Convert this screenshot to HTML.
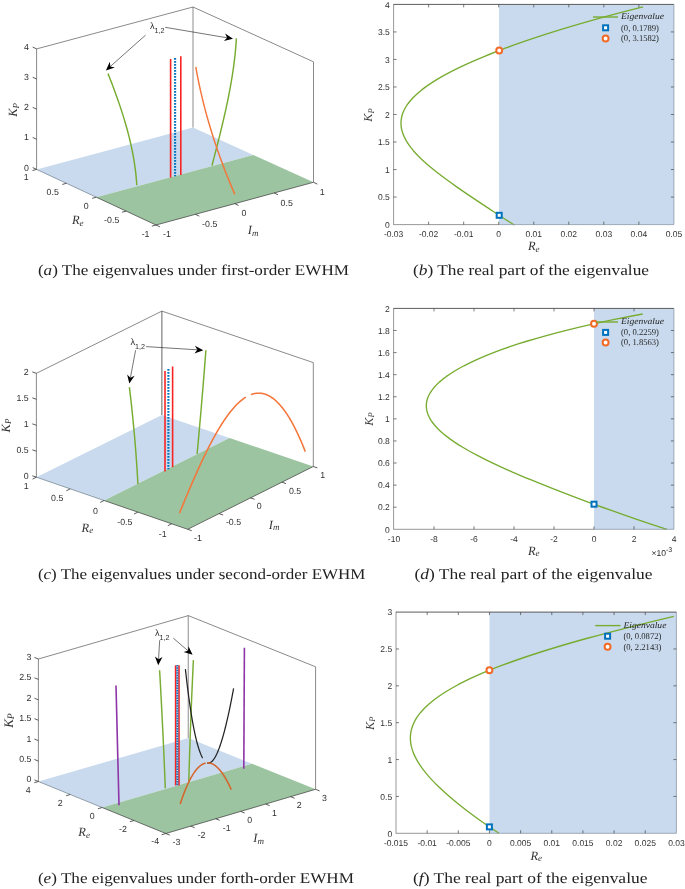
<!DOCTYPE html><html><head><meta charset="utf-8"><title>Figure</title><style>html,body{margin:0;padding:0;background:#fff}svg{display:block}</style></head><body>
<svg width="685" height="889" viewBox="0 0 685 889" style="will-change:transform" text-rendering="geometricPrecision">
<rect width="685" height="889" fill="#fff"/>
<rect x="499.00" y="4.40" width="174.90" height="220.20" fill="#C9DAEE"/>
<path d="M643.10 6.80 L632.13 9.56 L621.46 12.32 L611.07 15.09 L600.95 17.85 L591.08 20.61 L581.46 23.37 L572.08 26.13 L562.94 28.90 L554.02 31.66 L545.34 34.42 L536.88 37.18 L528.64 39.94 L520.63 42.71 L512.85 45.47 L505.30 48.23 L497.97 50.99 L490.89 53.75 L484.04 56.52 L477.43 59.28 L471.07 62.04 L464.96 64.80 L459.11 67.56 L453.52 70.33 L448.19 73.09 L443.14 75.85 L438.35 78.61 L433.85 81.37 L429.63 84.14 L425.69 86.90 L422.03 89.66 L418.67 92.42 L415.60 95.18 L412.83 97.95 L410.34 100.71 L408.16 103.47 L406.26 106.23 L404.66 108.99 L403.35 111.76 L402.33 114.52 L401.60 117.28 L401.15 120.04 L400.98 122.81 L401.08 125.57 L401.45 128.33 L402.09 131.09 L402.97 133.85 L404.11 136.62 L405.49 139.38 L407.09 142.14 L408.92 144.90 L410.96 147.66 L413.21 150.43 L415.65 153.19 L418.27 155.95 L421.06 158.71 L424.01 161.47 L427.11 164.24 L430.35 167.00 L433.72 169.76 L437.20 172.52 L440.79 175.28 L444.47 178.05 L448.24 180.81 L452.08 183.57 L455.98 186.33 L459.94 189.09 L463.95 191.86 L468.00 194.62 L472.08 197.38 L476.19 200.14 L480.32 202.90 L484.48 205.67 L488.66 208.43 L492.87 211.19 L497.09 213.95 L501.35 216.71 L505.63 219.48 L509.96 222.24 L514.35 225.00" fill="none" stroke="#77AC30" stroke-width="1.35" stroke-linejoin="round" />
<line x1="393.60" y1="4.10" x2="393.60" y2="224.90" stroke="#8c8c8c" stroke-width="0.9" />
<line x1="393.60" y1="224.60" x2="499.00" y2="224.60" stroke="#8c8c8c" stroke-width="0.9" />
<line x1="499.00" y1="224.60" x2="673.90" y2="224.60" stroke="#8d99a8" stroke-width="0.8" />
<line x1="673.90" y1="4.40" x2="673.90" y2="224.60" stroke="#8d99a8" stroke-width="0.8" />
<line x1="393.60" y1="4.40" x2="673.90" y2="4.40" stroke="#4a4a4a" stroke-width="0.9" />
<text transform="translate(393.60 237.24) scale(1.000 1)" font-size="8.5" text-anchor="middle" font-family='"Liberation Sans", sans-serif' fill="#303030">-0.03</text>
<line x1="428.64" y1="224.60" x2="428.64" y2="221.60" stroke="#444" stroke-width="0.7" />
<line x1="428.64" y1="4.40" x2="428.64" y2="7.40" stroke="#444" stroke-width="0.7" />
<text transform="translate(428.64 237.24) scale(1.000 1)" font-size="8.5" text-anchor="middle" font-family='"Liberation Sans", sans-serif' fill="#303030">-0.02</text>
<line x1="463.68" y1="224.60" x2="463.68" y2="221.60" stroke="#444" stroke-width="0.7" />
<line x1="463.68" y1="4.40" x2="463.68" y2="7.40" stroke="#444" stroke-width="0.7" />
<text transform="translate(463.68 237.24) scale(1.000 1)" font-size="8.5" text-anchor="middle" font-family='"Liberation Sans", sans-serif' fill="#303030">-0.01</text>
<line x1="498.71" y1="224.60" x2="498.71" y2="221.60" stroke="#444" stroke-width="0.7" />
<line x1="498.71" y1="4.40" x2="498.71" y2="7.40" stroke="#444" stroke-width="0.7" />
<text transform="translate(498.71 237.24) scale(1.000 1)" font-size="8.5" text-anchor="middle" font-family='"Liberation Sans", sans-serif' fill="#303030">0</text>
<line x1="533.75" y1="224.60" x2="533.75" y2="221.60" stroke="#444" stroke-width="0.7" />
<line x1="533.75" y1="4.40" x2="533.75" y2="7.40" stroke="#444" stroke-width="0.7" />
<text transform="translate(533.75 237.24) scale(1.000 1)" font-size="8.5" text-anchor="middle" font-family='"Liberation Sans", sans-serif' fill="#303030">0.01</text>
<line x1="568.79" y1="224.60" x2="568.79" y2="221.60" stroke="#444" stroke-width="0.7" />
<line x1="568.79" y1="4.40" x2="568.79" y2="7.40" stroke="#444" stroke-width="0.7" />
<text transform="translate(568.79 237.24) scale(1.000 1)" font-size="8.5" text-anchor="middle" font-family='"Liberation Sans", sans-serif' fill="#303030">0.02</text>
<line x1="603.83" y1="224.60" x2="603.83" y2="221.60" stroke="#444" stroke-width="0.7" />
<line x1="603.83" y1="4.40" x2="603.83" y2="7.40" stroke="#444" stroke-width="0.7" />
<text transform="translate(603.83 237.24) scale(1.000 1)" font-size="8.5" text-anchor="middle" font-family='"Liberation Sans", sans-serif' fill="#303030">0.03</text>
<line x1="638.86" y1="224.60" x2="638.86" y2="221.60" stroke="#444" stroke-width="0.7" />
<line x1="638.86" y1="4.40" x2="638.86" y2="7.40" stroke="#444" stroke-width="0.7" />
<text transform="translate(638.86 237.24) scale(1.000 1)" font-size="8.5" text-anchor="middle" font-family='"Liberation Sans", sans-serif' fill="#303030">0.04</text>
<text transform="translate(673.90 237.24) scale(1.000 1)" font-size="8.5" text-anchor="middle" font-family='"Liberation Sans", sans-serif' fill="#303030">0.05</text>
<text transform="translate(389.80 227.84) scale(1.000 1)" font-size="8.5" text-anchor="end" font-family='"Liberation Sans", sans-serif' fill="#303030">0</text>
<line x1="393.60" y1="197.07" x2="396.60" y2="197.07" stroke="#444" stroke-width="0.7" />
<line x1="673.90" y1="197.07" x2="670.90" y2="197.07" stroke="#444" stroke-width="0.7" />
<text transform="translate(389.80 200.32) scale(1.000 1)" font-size="8.5" text-anchor="end" font-family='"Liberation Sans", sans-serif' fill="#303030">0.5</text>
<line x1="393.60" y1="169.55" x2="396.60" y2="169.55" stroke="#444" stroke-width="0.7" />
<line x1="673.90" y1="169.55" x2="670.90" y2="169.55" stroke="#444" stroke-width="0.7" />
<text transform="translate(389.80 172.79) scale(1.000 1)" font-size="8.5" text-anchor="end" font-family='"Liberation Sans", sans-serif' fill="#303030">1</text>
<line x1="393.60" y1="142.03" x2="396.60" y2="142.03" stroke="#444" stroke-width="0.7" />
<line x1="673.90" y1="142.03" x2="670.90" y2="142.03" stroke="#444" stroke-width="0.7" />
<text transform="translate(389.80 145.27) scale(1.000 1)" font-size="8.5" text-anchor="end" font-family='"Liberation Sans", sans-serif' fill="#303030">1.5</text>
<line x1="393.60" y1="114.50" x2="396.60" y2="114.50" stroke="#444" stroke-width="0.7" />
<line x1="673.90" y1="114.50" x2="670.90" y2="114.50" stroke="#444" stroke-width="0.7" />
<text transform="translate(389.80 117.74) scale(1.000 1)" font-size="8.5" text-anchor="end" font-family='"Liberation Sans", sans-serif' fill="#303030">2</text>
<line x1="393.60" y1="86.97" x2="396.60" y2="86.97" stroke="#444" stroke-width="0.7" />
<line x1="673.90" y1="86.97" x2="670.90" y2="86.97" stroke="#444" stroke-width="0.7" />
<text transform="translate(389.80 90.22) scale(1.000 1)" font-size="8.5" text-anchor="end" font-family='"Liberation Sans", sans-serif' fill="#303030">2.5</text>
<line x1="393.60" y1="59.45" x2="396.60" y2="59.45" stroke="#444" stroke-width="0.7" />
<line x1="673.90" y1="59.45" x2="670.90" y2="59.45" stroke="#444" stroke-width="0.7" />
<text transform="translate(389.80 62.69) scale(1.000 1)" font-size="8.5" text-anchor="end" font-family='"Liberation Sans", sans-serif' fill="#303030">3</text>
<line x1="393.60" y1="31.93" x2="396.60" y2="31.93" stroke="#444" stroke-width="0.7" />
<line x1="673.90" y1="31.93" x2="670.90" y2="31.93" stroke="#444" stroke-width="0.7" />
<text transform="translate(389.80 35.17) scale(1.000 1)" font-size="8.5" text-anchor="end" font-family='"Liberation Sans", sans-serif' fill="#303030">3.5</text>
<text transform="translate(389.80 7.64) scale(1.000 1)" font-size="8.5" text-anchor="end" font-family='"Liberation Sans", sans-serif' fill="#303030">4</text>
<rect x="496.70" y="212.80" width="5.00" height="5.00" fill="#fff" stroke="#0072BD" stroke-width="2"/>
<circle cx="499.20" cy="50.50" r="2.95" fill="#fff" stroke="#F26A26" stroke-width="2"/>
<line x1="593.00" y1="17.00" x2="618.00" y2="17.00" stroke="#77AC30" stroke-width="1.4" />
<text x="621.00" y="19.30" font-size="8.8" text-anchor="start" font-family='"Liberation Serif", serif' fill="#262626" font-style="italic" textLength="43" lengthAdjust="spacingAndGlyphs">Eigenvalue</text>
<rect x="603.10" y="25.30" width="5.00" height="5.00" fill="#fff" stroke="#0072BD" stroke-width="2"/>
<circle cx="605.60" cy="38.50" r="2.95" fill="#fff" stroke="#F26A26" stroke-width="2"/>
<text x="621.00" y="30.60" font-size="8.9" text-anchor="start" font-family='"Liberation Serif", serif' fill="#262626"  textLength="38" lengthAdjust="spacingAndGlyphs">(0, 0.1789)</text>
<text x="621.00" y="41.30" font-size="8.9" text-anchor="start" font-family='"Liberation Serif", serif' fill="#262626"  textLength="38" lengthAdjust="spacingAndGlyphs">(0, 3.1582)</text>
<text x="533.70" y="250.25" font-size="12.5" text-anchor="middle" font-family='"Liberation Serif", serif' font-style="italic" fill="#333">R<tspan font-size="9.00" dy="1.6">e</tspan></text>
<text x="368.80" y="118.66" font-size="12.2" text-anchor="middle" font-family='"Liberation Serif", serif' font-style="italic" fill="#333" transform="rotate(-90 368.80 115.00)">K<tspan font-size="8.54" dy="1.6">P</tspan></text>
<rect x="594.00" y="308.40" width="79.90" height="220.90" fill="#C9DAEE"/>
<path d="M642.67 314.00 L628.23 316.73 L614.52 319.45 L601.50 322.18 L589.13 324.90 L577.37 327.63 L566.19 330.35 L555.56 333.08 L545.47 335.80 L535.87 338.53 L526.75 341.25 L518.10 343.98 L509.90 346.70 L502.13 349.43 L494.78 352.15 L487.83 354.88 L481.29 357.61 L475.14 360.33 L469.37 363.06 L463.98 365.78 L458.96 368.51 L454.31 371.23 L450.03 373.96 L446.10 376.68 L442.54 379.41 L439.34 382.13 L436.49 384.86 L434.00 387.58 L431.86 390.31 L430.07 393.03 L428.63 395.76 L427.53 398.48 L426.79 401.21 L426.38 403.94 L426.32 406.66 L426.59 409.39 L427.20 412.11 L428.14 414.84 L429.41 417.56 L430.99 420.29 L432.89 423.01 L435.11 425.74 L437.63 428.46 L440.44 431.19 L443.55 433.91 L446.94 436.64 L450.60 439.36 L454.53 442.09 L458.72 444.82 L463.15 447.54 L467.82 450.27 L472.72 452.99 L477.83 455.72 L483.16 458.44 L488.67 461.17 L494.37 463.89 L500.25 466.62 L506.29 469.34 L512.48 472.07 L518.81 474.79 L525.28 477.52 L531.87 480.24 L538.57 482.97 L545.38 485.69 L552.29 488.42 L559.29 491.15 L566.38 493.87 L573.55 496.60 L580.80 499.32 L588.14 502.05 L595.55 504.77 L603.04 507.50 L610.62 510.22 L618.30 512.95 L626.07 515.67 L633.96 518.40 L641.97 521.12 L650.13 523.85 L658.46 526.57 L666.97 529.30" fill="none" stroke="#77AC30" stroke-width="1.35" stroke-linejoin="round" />
<line x1="393.60" y1="308.10" x2="393.60" y2="529.60" stroke="#8c8c8c" stroke-width="0.9" />
<line x1="393.60" y1="529.30" x2="594.00" y2="529.30" stroke="#8c8c8c" stroke-width="0.9" />
<line x1="594.00" y1="529.30" x2="673.90" y2="529.30" stroke="#8d99a8" stroke-width="0.8" />
<line x1="673.90" y1="308.40" x2="673.90" y2="529.30" stroke="#8d99a8" stroke-width="0.8" />
<line x1="393.60" y1="308.40" x2="673.90" y2="308.40" stroke="#4a4a4a" stroke-width="0.9" />
<text transform="translate(394.00 541.94) scale(1.000 1)" font-size="8.5" text-anchor="middle" font-family='"Liberation Sans", sans-serif' fill="#303030">-10</text>
<line x1="434.00" y1="529.30" x2="434.00" y2="526.30" stroke="#444" stroke-width="0.7" />
<line x1="434.00" y1="308.40" x2="434.00" y2="311.40" stroke="#444" stroke-width="0.7" />
<text transform="translate(434.00 541.94) scale(1.000 1)" font-size="8.5" text-anchor="middle" font-family='"Liberation Sans", sans-serif' fill="#303030">-8</text>
<line x1="474.00" y1="529.30" x2="474.00" y2="526.30" stroke="#444" stroke-width="0.7" />
<line x1="474.00" y1="308.40" x2="474.00" y2="311.40" stroke="#444" stroke-width="0.7" />
<text transform="translate(474.00 541.94) scale(1.000 1)" font-size="8.5" text-anchor="middle" font-family='"Liberation Sans", sans-serif' fill="#303030">-6</text>
<line x1="514.00" y1="529.30" x2="514.00" y2="526.30" stroke="#444" stroke-width="0.7" />
<line x1="514.00" y1="308.40" x2="514.00" y2="311.40" stroke="#444" stroke-width="0.7" />
<text transform="translate(514.00 541.94) scale(1.000 1)" font-size="8.5" text-anchor="middle" font-family='"Liberation Sans", sans-serif' fill="#303030">-4</text>
<line x1="554.00" y1="529.30" x2="554.00" y2="526.30" stroke="#444" stroke-width="0.7" />
<line x1="554.00" y1="308.40" x2="554.00" y2="311.40" stroke="#444" stroke-width="0.7" />
<text transform="translate(554.00 541.94) scale(1.000 1)" font-size="8.5" text-anchor="middle" font-family='"Liberation Sans", sans-serif' fill="#303030">-2</text>
<line x1="594.00" y1="529.30" x2="594.00" y2="526.30" stroke="#444" stroke-width="0.7" />
<line x1="594.00" y1="308.40" x2="594.00" y2="311.40" stroke="#444" stroke-width="0.7" />
<text transform="translate(594.00 541.94) scale(1.000 1)" font-size="8.5" text-anchor="middle" font-family='"Liberation Sans", sans-serif' fill="#303030">0</text>
<line x1="634.00" y1="529.30" x2="634.00" y2="526.30" stroke="#444" stroke-width="0.7" />
<line x1="634.00" y1="308.40" x2="634.00" y2="311.40" stroke="#444" stroke-width="0.7" />
<text transform="translate(634.00 541.94) scale(1.000 1)" font-size="8.5" text-anchor="middle" font-family='"Liberation Sans", sans-serif' fill="#303030">2</text>
<text transform="translate(674.00 541.94) scale(1.000 1)" font-size="8.5" text-anchor="middle" font-family='"Liberation Sans", sans-serif' fill="#303030">4</text>
<text transform="translate(389.80 532.54) scale(1.000 1)" font-size="8.5" text-anchor="end" font-family='"Liberation Sans", sans-serif' fill="#303030">0</text>
<line x1="393.60" y1="507.21" x2="396.60" y2="507.21" stroke="#444" stroke-width="0.7" />
<line x1="673.90" y1="507.21" x2="670.90" y2="507.21" stroke="#444" stroke-width="0.7" />
<text transform="translate(389.80 510.45) scale(1.000 1)" font-size="8.5" text-anchor="end" font-family='"Liberation Sans", sans-serif' fill="#303030">0.2</text>
<line x1="393.60" y1="485.12" x2="396.60" y2="485.12" stroke="#444" stroke-width="0.7" />
<line x1="673.90" y1="485.12" x2="670.90" y2="485.12" stroke="#444" stroke-width="0.7" />
<text transform="translate(389.80 488.36) scale(1.000 1)" font-size="8.5" text-anchor="end" font-family='"Liberation Sans", sans-serif' fill="#303030">0.4</text>
<line x1="393.60" y1="463.03" x2="396.60" y2="463.03" stroke="#444" stroke-width="0.7" />
<line x1="673.90" y1="463.03" x2="670.90" y2="463.03" stroke="#444" stroke-width="0.7" />
<text transform="translate(389.80 466.27) scale(1.000 1)" font-size="8.5" text-anchor="end" font-family='"Liberation Sans", sans-serif' fill="#303030">0.6</text>
<line x1="393.60" y1="440.94" x2="396.60" y2="440.94" stroke="#444" stroke-width="0.7" />
<line x1="673.90" y1="440.94" x2="670.90" y2="440.94" stroke="#444" stroke-width="0.7" />
<text transform="translate(389.80 444.18) scale(1.000 1)" font-size="8.5" text-anchor="end" font-family='"Liberation Sans", sans-serif' fill="#303030">0.8</text>
<line x1="393.60" y1="418.85" x2="396.60" y2="418.85" stroke="#444" stroke-width="0.7" />
<line x1="673.90" y1="418.85" x2="670.90" y2="418.85" stroke="#444" stroke-width="0.7" />
<text transform="translate(389.80 422.09) scale(1.000 1)" font-size="8.5" text-anchor="end" font-family='"Liberation Sans", sans-serif' fill="#303030">1</text>
<line x1="393.60" y1="396.76" x2="396.60" y2="396.76" stroke="#444" stroke-width="0.7" />
<line x1="673.90" y1="396.76" x2="670.90" y2="396.76" stroke="#444" stroke-width="0.7" />
<text transform="translate(389.80 400.00) scale(1.000 1)" font-size="8.5" text-anchor="end" font-family='"Liberation Sans", sans-serif' fill="#303030">1.2</text>
<line x1="393.60" y1="374.67" x2="396.60" y2="374.67" stroke="#444" stroke-width="0.7" />
<line x1="673.90" y1="374.67" x2="670.90" y2="374.67" stroke="#444" stroke-width="0.7" />
<text transform="translate(389.80 377.91) scale(1.000 1)" font-size="8.5" text-anchor="end" font-family='"Liberation Sans", sans-serif' fill="#303030">1.4</text>
<line x1="393.60" y1="352.58" x2="396.60" y2="352.58" stroke="#444" stroke-width="0.7" />
<line x1="673.90" y1="352.58" x2="670.90" y2="352.58" stroke="#444" stroke-width="0.7" />
<text transform="translate(389.80 355.82) scale(1.000 1)" font-size="8.5" text-anchor="end" font-family='"Liberation Sans", sans-serif' fill="#303030">1.6</text>
<line x1="393.60" y1="330.49" x2="396.60" y2="330.49" stroke="#444" stroke-width="0.7" />
<line x1="673.90" y1="330.49" x2="670.90" y2="330.49" stroke="#444" stroke-width="0.7" />
<text transform="translate(389.80 333.73) scale(1.000 1)" font-size="8.5" text-anchor="end" font-family='"Liberation Sans", sans-serif' fill="#303030">1.8</text>
<text transform="translate(389.80 311.64) scale(1.000 1)" font-size="8.5" text-anchor="end" font-family='"Liberation Sans", sans-serif' fill="#303030">2</text>
<rect x="591.50" y="501.70" width="5.00" height="5.00" fill="#fff" stroke="#0072BD" stroke-width="2"/>
<circle cx="594.00" cy="323.80" r="2.95" fill="#fff" stroke="#F26A26" stroke-width="2"/>
<line x1="596.00" y1="322.00" x2="618.00" y2="322.00" stroke="#77AC30" stroke-width="1.4" />
<text x="621.00" y="324.30" font-size="8.8" text-anchor="start" font-family='"Liberation Serif", serif' fill="#262626" font-style="italic" textLength="43" lengthAdjust="spacingAndGlyphs">Eigenvalue</text>
<rect x="603.10" y="329.90" width="5.00" height="5.00" fill="#fff" stroke="#0072BD" stroke-width="2"/>
<circle cx="605.60" cy="342.50" r="2.95" fill="#fff" stroke="#F26A26" stroke-width="2"/>
<text x="621.00" y="335.20" font-size="8.9" text-anchor="start" font-family='"Liberation Serif", serif' fill="#262626"  textLength="38" lengthAdjust="spacingAndGlyphs">(0, 0.2259)</text>
<text x="621.00" y="345.30" font-size="8.9" text-anchor="start" font-family='"Liberation Serif", serif' fill="#262626"  textLength="38" lengthAdjust="spacingAndGlyphs">(0, 1.8563)</text>
<text x="533.70" y="554.75" font-size="12.5" text-anchor="middle" font-family='"Liberation Serif", serif' font-style="italic" fill="#333">R<tspan font-size="9.00" dy="1.6">e</tspan></text>
<text x="368.90" y="422.66" font-size="12.2" text-anchor="middle" font-family='"Liberation Serif", serif' font-style="italic" fill="#333" transform="rotate(-90 368.90 419.00)">K<tspan font-size="8.54" dy="1.6">P</tspan></text>
<text x="651.50" y="555.50" font-size="8.5" font-family='"Liberation Sans", sans-serif' fill="#262626">×10<tspan font-size="7" dy="-3.2">-3</tspan></text>
<rect x="489.50" y="612.10" width="186.90" height="221.20" fill="#C9DAEE"/>
<path d="M673.90 616.30 L662.38 619.05 L651.05 621.79 L639.90 624.54 L628.95 627.29 L618.20 630.03 L607.68 632.78 L597.38 635.53 L587.32 638.27 L577.50 641.02 L567.93 643.77 L558.61 646.52 L549.56 649.26 L540.77 652.01 L532.26 654.76 L524.02 657.50 L516.07 660.25 L508.40 663.00 L501.02 665.74 L493.94 668.49 L487.14 671.24 L480.64 673.98 L474.44 676.73 L468.54 679.48 L462.93 682.22 L457.62 684.97 L452.61 687.72 L447.90 690.46 L443.48 693.21 L439.35 695.96 L435.52 698.71 L431.97 701.45 L428.71 704.20 L425.73 706.95 L423.03 709.69 L420.61 712.44 L418.46 715.19 L416.57 717.93 L414.94 720.68 L413.58 723.43 L412.46 726.17 L411.58 728.92 L410.95 731.67 L410.55 734.41 L410.37 737.16 L410.42 739.91 L410.68 742.65 L411.15 745.40 L411.82 748.15 L412.68 750.89 L413.73 753.64 L414.96 756.39 L416.37 759.14 L417.94 761.88 L419.67 764.63 L421.55 767.38 L423.58 770.12 L425.75 772.87 L428.05 775.62 L430.48 778.36 L433.03 781.11 L435.70 783.86 L438.47 786.60 L441.35 789.35 L444.33 792.10 L447.41 794.84 L450.57 797.59 L453.82 800.34 L457.16 803.08 L460.58 805.83 L464.07 808.58 L467.65 811.33 L471.30 814.07 L475.02 816.82 L478.82 819.57 L482.70 822.31 L486.66 825.06 L490.69 827.81 L494.82 830.55 L499.03 833.30" fill="none" stroke="#77AC30" stroke-width="1.35" stroke-linejoin="round" />
<line x1="396.00" y1="611.80" x2="396.00" y2="833.60" stroke="#8c8c8c" stroke-width="0.9" />
<line x1="396.00" y1="833.30" x2="489.50" y2="833.30" stroke="#8c8c8c" stroke-width="0.9" />
<line x1="489.50" y1="833.30" x2="676.40" y2="833.30" stroke="#8d99a8" stroke-width="0.8" />
<line x1="676.40" y1="612.10" x2="676.40" y2="833.30" stroke="#8d99a8" stroke-width="0.8" />
<line x1="396.00" y1="612.10" x2="676.40" y2="612.10" stroke="#4a4a4a" stroke-width="0.9" />
<text transform="translate(396.00 845.94) scale(1.000 1)" font-size="8.5" text-anchor="middle" font-family='"Liberation Sans", sans-serif' fill="#303030">-0.015</text>
<line x1="427.16" y1="833.30" x2="427.16" y2="830.30" stroke="#444" stroke-width="0.7" />
<line x1="427.16" y1="612.10" x2="427.16" y2="615.10" stroke="#444" stroke-width="0.7" />
<text transform="translate(427.16 845.94) scale(1.000 1)" font-size="8.5" text-anchor="middle" font-family='"Liberation Sans", sans-serif' fill="#303030">-0.01</text>
<line x1="458.31" y1="833.30" x2="458.31" y2="830.30" stroke="#444" stroke-width="0.7" />
<line x1="458.31" y1="612.10" x2="458.31" y2="615.10" stroke="#444" stroke-width="0.7" />
<text transform="translate(458.31 845.94) scale(1.000 1)" font-size="8.5" text-anchor="middle" font-family='"Liberation Sans", sans-serif' fill="#303030">-0.005</text>
<line x1="489.47" y1="833.30" x2="489.47" y2="830.30" stroke="#444" stroke-width="0.7" />
<line x1="489.47" y1="612.10" x2="489.47" y2="615.10" stroke="#444" stroke-width="0.7" />
<text transform="translate(489.47 845.94) scale(1.000 1)" font-size="8.5" text-anchor="middle" font-family='"Liberation Sans", sans-serif' fill="#303030">0</text>
<line x1="520.62" y1="833.30" x2="520.62" y2="830.30" stroke="#444" stroke-width="0.7" />
<line x1="520.62" y1="612.10" x2="520.62" y2="615.10" stroke="#444" stroke-width="0.7" />
<text transform="translate(520.62 845.94) scale(1.000 1)" font-size="8.5" text-anchor="middle" font-family='"Liberation Sans", sans-serif' fill="#303030">0.005</text>
<line x1="551.78" y1="833.30" x2="551.78" y2="830.30" stroke="#444" stroke-width="0.7" />
<line x1="551.78" y1="612.10" x2="551.78" y2="615.10" stroke="#444" stroke-width="0.7" />
<text transform="translate(551.78 845.94) scale(1.000 1)" font-size="8.5" text-anchor="middle" font-family='"Liberation Sans", sans-serif' fill="#303030">0.01</text>
<line x1="582.93" y1="833.30" x2="582.93" y2="830.30" stroke="#444" stroke-width="0.7" />
<line x1="582.93" y1="612.10" x2="582.93" y2="615.10" stroke="#444" stroke-width="0.7" />
<text transform="translate(582.93 845.94) scale(1.000 1)" font-size="8.5" text-anchor="middle" font-family='"Liberation Sans", sans-serif' fill="#303030">0.015</text>
<line x1="614.09" y1="833.30" x2="614.09" y2="830.30" stroke="#444" stroke-width="0.7" />
<line x1="614.09" y1="612.10" x2="614.09" y2="615.10" stroke="#444" stroke-width="0.7" />
<text transform="translate(614.09 845.94) scale(1.000 1)" font-size="8.5" text-anchor="middle" font-family='"Liberation Sans", sans-serif' fill="#303030">0.02</text>
<line x1="645.24" y1="833.30" x2="645.24" y2="830.30" stroke="#444" stroke-width="0.7" />
<line x1="645.24" y1="612.10" x2="645.24" y2="615.10" stroke="#444" stroke-width="0.7" />
<text transform="translate(645.24 845.94) scale(1.000 1)" font-size="8.5" text-anchor="middle" font-family='"Liberation Sans", sans-serif' fill="#303030">0.025</text>
<text transform="translate(676.40 845.94) scale(1.000 1)" font-size="8.5" text-anchor="middle" font-family='"Liberation Sans", sans-serif' fill="#303030">0.03</text>
<text transform="translate(392.20 836.54) scale(1.000 1)" font-size="8.5" text-anchor="end" font-family='"Liberation Sans", sans-serif' fill="#303030">0</text>
<line x1="396.00" y1="796.43" x2="399.00" y2="796.43" stroke="#444" stroke-width="0.7" />
<line x1="676.40" y1="796.43" x2="673.40" y2="796.43" stroke="#444" stroke-width="0.7" />
<text transform="translate(392.20 799.68) scale(1.000 1)" font-size="8.5" text-anchor="end" font-family='"Liberation Sans", sans-serif' fill="#303030">0.5</text>
<line x1="396.00" y1="759.57" x2="399.00" y2="759.57" stroke="#444" stroke-width="0.7" />
<line x1="676.40" y1="759.57" x2="673.40" y2="759.57" stroke="#444" stroke-width="0.7" />
<text transform="translate(392.20 762.81) scale(1.000 1)" font-size="8.5" text-anchor="end" font-family='"Liberation Sans", sans-serif' fill="#303030">1</text>
<line x1="396.00" y1="722.70" x2="399.00" y2="722.70" stroke="#444" stroke-width="0.7" />
<line x1="676.40" y1="722.70" x2="673.40" y2="722.70" stroke="#444" stroke-width="0.7" />
<text transform="translate(392.20 725.94) scale(1.000 1)" font-size="8.5" text-anchor="end" font-family='"Liberation Sans", sans-serif' fill="#303030">1.5</text>
<line x1="396.00" y1="685.83" x2="399.00" y2="685.83" stroke="#444" stroke-width="0.7" />
<line x1="676.40" y1="685.83" x2="673.40" y2="685.83" stroke="#444" stroke-width="0.7" />
<text transform="translate(392.20 689.08) scale(1.000 1)" font-size="8.5" text-anchor="end" font-family='"Liberation Sans", sans-serif' fill="#303030">2</text>
<line x1="396.00" y1="648.97" x2="399.00" y2="648.97" stroke="#444" stroke-width="0.7" />
<line x1="676.40" y1="648.97" x2="673.40" y2="648.97" stroke="#444" stroke-width="0.7" />
<text transform="translate(392.20 652.21) scale(1.000 1)" font-size="8.5" text-anchor="end" font-family='"Liberation Sans", sans-serif' fill="#303030">2.5</text>
<text transform="translate(392.20 615.34) scale(1.000 1)" font-size="8.5" text-anchor="end" font-family='"Liberation Sans", sans-serif' fill="#303030">3</text>
<rect x="486.90" y="824.40" width="5.00" height="5.00" fill="#fff" stroke="#0072BD" stroke-width="2"/>
<circle cx="489.40" cy="670.30" r="2.95" fill="#fff" stroke="#F26A26" stroke-width="2"/>
<line x1="595.20" y1="625.60" x2="620.50" y2="625.60" stroke="#77AC30" stroke-width="1.4" />
<text x="623.40" y="627.90" font-size="8.8" text-anchor="start" font-family='"Liberation Serif", serif' fill="#262626" font-style="italic" textLength="43" lengthAdjust="spacingAndGlyphs">Eigenvalue</text>
<rect x="605.10" y="633.70" width="5.00" height="5.00" fill="#fff" stroke="#0072BD" stroke-width="2"/>
<circle cx="607.60" cy="646.80" r="2.95" fill="#fff" stroke="#F26A26" stroke-width="2"/>
<text x="623.40" y="639.00" font-size="8.9" text-anchor="start" font-family='"Liberation Serif", serif' fill="#262626"  textLength="38" lengthAdjust="spacingAndGlyphs">(0, 0.0872)</text>
<text x="623.40" y="649.60" font-size="8.9" text-anchor="start" font-family='"Liberation Serif", serif' fill="#262626"  textLength="38" lengthAdjust="spacingAndGlyphs">(0, 2.2143)</text>
<text x="536.20" y="859.75" font-size="12.5" text-anchor="middle" font-family='"Liberation Serif", serif' font-style="italic" fill="#333">R<tspan font-size="9.00" dy="1.6">e</tspan></text>
<text x="370.20" y="726.86" font-size="12.2" text-anchor="middle" font-family='"Liberation Serif", serif' font-style="italic" fill="#333" transform="rotate(-90 370.20 723.20)">K<tspan font-size="8.54" dy="1.6">P</tspan></text>
<polygon points="36.60,169.40 193.00,127.50 253.25,154.90 96.30,197.20" fill="#C9DAEE"/>
<polygon points="96.30,197.20 253.25,154.90 313.50,182.30 156.00,225.00" fill="#9CC4A0"/>
<line x1="36.60" y1="169.40" x2="36.60" y2="48.90" stroke="#3a3a3a" stroke-width="0.6" />
<line x1="193.00" y1="127.50" x2="193.00" y2="7.00" stroke="#a8a8a8" stroke-width="1.3" />
<line x1="313.50" y1="182.30" x2="313.50" y2="61.80" stroke="#3a3a3a" stroke-width="0.6" />
<line x1="36.60" y1="48.90" x2="193.00" y2="7.00" stroke="#3a3a3a" stroke-width="0.6" />
<line x1="193.00" y1="7.00" x2="313.50" y2="61.80" stroke="#3a3a3a" stroke-width="0.6" />
<line x1="36.60" y1="169.40" x2="96.30" y2="197.20" stroke="#6f7c8a" stroke-width="0.7" />
<line x1="96.30" y1="197.20" x2="156.00" y2="225.00" stroke="#444" stroke-width="0.75" />
<line x1="156.00" y1="225.00" x2="313.50" y2="182.30" stroke="#444" stroke-width="0.75" />
<line x1="36.60" y1="169.40" x2="32.70" y2="167.58" stroke="#333" stroke-width="0.8" />
<text transform="translate(29.00 170.55) scale(1.000 1)" font-size="8.8" text-anchor="end" font-family='"Liberation Sans", sans-serif' fill="#303030">0</text>
<line x1="36.60" y1="139.28" x2="32.70" y2="137.46" stroke="#333" stroke-width="0.8" />
<text transform="translate(29.00 140.43) scale(1.000 1)" font-size="8.8" text-anchor="end" font-family='"Liberation Sans", sans-serif' fill="#303030">1</text>
<line x1="36.60" y1="109.15" x2="32.70" y2="107.33" stroke="#333" stroke-width="0.8" />
<text transform="translate(29.00 110.30) scale(1.000 1)" font-size="8.8" text-anchor="end" font-family='"Liberation Sans", sans-serif' fill="#303030">2</text>
<line x1="36.60" y1="79.03" x2="32.70" y2="77.21" stroke="#333" stroke-width="0.8" />
<text transform="translate(29.00 80.18) scale(1.000 1)" font-size="8.8" text-anchor="end" font-family='"Liberation Sans", sans-serif' fill="#303030">3</text>
<line x1="36.60" y1="48.90" x2="32.70" y2="47.08" stroke="#333" stroke-width="0.8" />
<text transform="translate(29.00 50.05) scale(1.000 1)" font-size="8.8" text-anchor="end" font-family='"Liberation Sans", sans-serif' fill="#303030">4</text>
<line x1="36.60" y1="169.40" x2="32.45" y2="170.53" stroke="#333" stroke-width="0.8" />
<text transform="translate(26.10 180.45) scale(1.000 1)" font-size="8.8" text-anchor="middle" font-family='"Liberation Sans", sans-serif' fill="#303030">1</text>
<line x1="66.45" y1="183.30" x2="62.30" y2="184.43" stroke="#333" stroke-width="0.8" />
<text transform="translate(52.70 194.75) scale(1.000 1)" font-size="8.8" text-anchor="middle" font-family='"Liberation Sans", sans-serif' fill="#303030">0.5</text>
<line x1="96.30" y1="197.20" x2="92.15" y2="198.33" stroke="#333" stroke-width="0.8" />
<text transform="translate(86.10 209.05) scale(1.000 1)" font-size="8.8" text-anchor="middle" font-family='"Liberation Sans", sans-serif' fill="#303030">0</text>
<line x1="126.15" y1="211.10" x2="122.00" y2="212.23" stroke="#333" stroke-width="0.8" />
<text transform="translate(111.70 222.85) scale(1.000 1)" font-size="8.8" text-anchor="middle" font-family='"Liberation Sans", sans-serif' fill="#303030">-0.5</text>
<line x1="156.00" y1="225.00" x2="151.85" y2="226.13" stroke="#333" stroke-width="0.8" />
<text transform="translate(145.60 236.65) scale(1.000 1)" font-size="8.8" text-anchor="middle" font-family='"Liberation Sans", sans-serif' fill="#303030">-1</text>
<line x1="156.00" y1="225.00" x2="159.90" y2="226.82" stroke="#333" stroke-width="0.8" />
<text transform="translate(167.00 236.65) scale(1.000 1)" font-size="8.8" text-anchor="middle" font-family='"Liberation Sans", sans-serif' fill="#303030">-1</text>
<line x1="195.38" y1="214.32" x2="199.27" y2="216.14" stroke="#333" stroke-width="0.8" />
<text transform="translate(209.70 226.85) scale(1.000 1)" font-size="8.8" text-anchor="middle" font-family='"Liberation Sans", sans-serif' fill="#303030">-0.5</text>
<line x1="234.75" y1="203.65" x2="238.65" y2="205.47" stroke="#333" stroke-width="0.8" />
<text transform="translate(244.00 216.15) scale(1.000 1)" font-size="8.8" text-anchor="middle" font-family='"Liberation Sans", sans-serif' fill="#303030">0</text>
<line x1="274.12" y1="192.98" x2="278.02" y2="194.79" stroke="#333" stroke-width="0.8" />
<text transform="translate(286.70 205.55) scale(1.000 1)" font-size="8.8" text-anchor="middle" font-family='"Liberation Sans", sans-serif' fill="#303030">0.5</text>
<line x1="313.50" y1="182.30" x2="317.40" y2="184.12" stroke="#333" stroke-width="0.8" />
<text transform="translate(322.10 194.75) scale(1.000 1)" font-size="8.8" text-anchor="middle" font-family='"Liberation Sans", sans-serif' fill="#303030">1</text>
<text x="13.30" y="113.55" font-size="12.5" text-anchor="middle" font-family='"Liberation Serif", serif' font-style="italic" fill="#333" transform="rotate(-90 13.30 109.80)">K<tspan font-size="9.00" dy="1.6">P</tspan></text>
<text x="77.80" y="224.25" font-size="12.5" text-anchor="middle" font-family='"Liberation Serif", serif' font-style="italic" fill="#333">R<tspan font-size="9.00" dy="1.6">e</tspan></text>
<text x="253.10" y="234.25" font-size="12.5" text-anchor="middle" font-family='"Liberation Serif", serif' font-style="italic" fill="#333">I<tspan font-size="9.00" dy="1.6">m</tspan></text>
<path d="M108.00 73.60 L108.87 75.79 L109.73 77.98 L110.58 80.18 L111.43 82.38 L112.27 84.59 L113.10 86.80 L113.93 89.01 L114.75 91.23 L115.57 93.45 L116.37 95.68 L117.17 97.91 L117.95 100.14 L118.73 102.38 L119.50 104.62 L120.25 106.86 L121.00 109.11 L121.73 111.36 L122.46 113.61 L123.17 115.87 L123.87 118.14 L124.55 120.40 L125.23 122.67 L125.88 124.95 L126.53 127.22 L127.16 129.50 L127.77 131.79 L128.37 134.08 L128.96 136.37 L129.52 138.66 L130.07 140.96 L130.61 143.26 L131.12 145.57 L131.62 147.88 L132.10 150.19 L132.56 152.51 L133.00 154.83 L133.43 157.15 L133.83 159.48 L134.21 161.81 L134.57 164.14 L134.91 166.48 L135.23 168.82 L135.52 171.16 L135.79 173.51 L136.04 175.86 L136.27 178.22 L136.47 180.57 L136.65 182.94 L136.80 185.30" fill="none" stroke="#77AC30" stroke-width="1.45" stroke-linejoin="round" />
<path d="M236.40 38.40 L236.23 41.05 L236.05 43.70 L235.84 46.34 L235.61 48.98 L235.36 51.62 L235.10 54.26 L234.81 56.89 L234.51 59.52 L234.19 62.15 L233.85 64.77 L233.50 67.39 L233.12 70.01 L232.74 72.63 L232.34 75.24 L231.92 77.86 L231.49 80.47 L231.04 83.07 L230.58 85.68 L230.11 88.28 L229.62 90.88 L229.12 93.48 L228.61 96.08 L228.09 98.67 L227.56 101.27 L227.02 103.86 L226.46 106.45 L225.90 109.03 L225.33 111.62 L224.75 114.20 L224.16 116.78 L223.56 119.37 L222.96 121.94 L222.35 124.52 L221.73 127.10 L221.11 129.67 L220.48 132.25 L219.85 134.82 L219.21 137.39 L218.56 139.96 L217.92 142.53 L217.27 145.09 L216.61 147.66 L215.96 150.23 L215.30 152.79 L214.64 155.35 L213.98 157.92 L213.32 160.48 L212.66 163.04 L212.00 165.60" fill="none" stroke="#77AC30" stroke-width="1.45" stroke-linejoin="round" />
<path d="M195.80 67.00 L196.27 69.68 L196.76 72.37 L197.27 75.04 L197.79 77.72 L198.32 80.39 L198.87 83.06 L199.44 85.73 L200.01 88.39 L200.61 91.05 L201.21 93.71 L201.84 96.36 L202.47 99.01 L203.12 101.66 L203.78 104.30 L204.46 106.94 L205.15 109.57 L205.85 112.21 L206.57 114.84 L207.30 117.46 L208.05 120.08 L208.80 122.70 L209.57 125.32 L210.36 127.93 L211.15 130.53 L211.96 133.14 L212.78 135.74 L213.61 138.33 L214.45 140.93 L215.31 143.51 L216.18 146.10 L217.06 148.68 L217.95 151.25 L218.86 153.83 L219.77 156.39 L220.70 158.96 L221.64 161.52 L222.58 164.07 L223.54 166.62 L224.52 169.17 L225.50 171.71 L226.49 174.25 L227.49 176.79 L228.51 179.32 L229.53 181.84 L230.56 184.36 L231.61 186.88 L232.66 189.39 L233.73 191.90 L234.80 194.40" fill="none" stroke="#F4763A" stroke-width="1.45" stroke-linejoin="round" />
<line x1="170.60" y1="58.90" x2="170.60" y2="177.60" stroke="#F82424" stroke-width="1.6" />
<line x1="180.80" y1="56.20" x2="180.80" y2="174.90" stroke="#F82424" stroke-width="1.6" />
<line x1="175.10" y1="58.00" x2="175.10" y2="176.20" stroke="#0072BD" stroke-width="2.1" stroke-dasharray="1.65 1.35"/>
<text x="150.00" y="29.40" font-size="9.2" font-family='"Liberation Sans", sans-serif' fill="#303030">λ<tspan font-size="7.2" dy="3.6">1,2</tspan></text>
<line x1="145.60" y1="35.10" x2="110.38" y2="66.41" stroke="#1a1a1a" stroke-width="0.6" />
<polygon points="105.90,70.40 109.80,61.85 110.38,66.41 114.85,67.53" fill="#000"/>
<line x1="165.20" y1="27.30" x2="227.08" y2="37.80" stroke="#1a1a1a" stroke-width="0.6" />
<polygon points="233.00,38.80 223.89,41.11 227.08,37.80 225.16,33.62" fill="#000"/>
<polygon points="36.40,477.20 161.90,415.00 229.58,438.02 104.04,500.49" fill="#C9DAEE"/>
<polygon points="104.04,500.49 229.58,438.02 313.30,466.50 187.70,529.30" fill="#9CC4A0"/>
<line x1="36.40" y1="477.20" x2="36.40" y2="373.30" stroke="#3a3a3a" stroke-width="0.6" />
<line x1="161.90" y1="415.00" x2="161.90" y2="311.10" stroke="#3a3a3a" stroke-width="0.8" />
<line x1="313.30" y1="466.50" x2="313.30" y2="362.60" stroke="#3a3a3a" stroke-width="0.6" />
<line x1="36.40" y1="373.30" x2="161.90" y2="311.10" stroke="#3a3a3a" stroke-width="0.6" />
<line x1="161.90" y1="311.10" x2="313.30" y2="362.60" stroke="#3a3a3a" stroke-width="0.6" />
<line x1="36.40" y1="477.20" x2="104.04" y2="500.49" stroke="#6f7c8a" stroke-width="0.7" />
<line x1="104.04" y1="500.49" x2="187.70" y2="529.30" stroke="#444" stroke-width="0.75" />
<line x1="187.70" y1="529.30" x2="313.30" y2="466.50" stroke="#444" stroke-width="0.75" />
<line x1="36.40" y1="477.20" x2="32.33" y2="475.80" stroke="#333" stroke-width="0.8" />
<text transform="translate(28.70 479.05) scale(1.000 1)" font-size="8.8" text-anchor="end" font-family='"Liberation Sans", sans-serif' fill="#303030">0</text>
<line x1="36.40" y1="451.22" x2="32.33" y2="449.82" stroke="#333" stroke-width="0.8" />
<text transform="translate(28.70 453.08) scale(1.000 1)" font-size="8.8" text-anchor="end" font-family='"Liberation Sans", sans-serif' fill="#303030">0.5</text>
<line x1="36.40" y1="425.25" x2="32.33" y2="423.85" stroke="#333" stroke-width="0.8" />
<text transform="translate(28.70 427.10) scale(1.000 1)" font-size="8.8" text-anchor="end" font-family='"Liberation Sans", sans-serif' fill="#303030">1</text>
<line x1="36.40" y1="399.27" x2="32.33" y2="397.87" stroke="#333" stroke-width="0.8" />
<text transform="translate(28.70 401.13) scale(1.000 1)" font-size="8.8" text-anchor="end" font-family='"Liberation Sans", sans-serif' fill="#303030">1.5</text>
<line x1="36.40" y1="373.30" x2="32.33" y2="371.90" stroke="#333" stroke-width="0.8" />
<text transform="translate(28.70 375.15) scale(1.000 1)" font-size="8.8" text-anchor="end" font-family='"Liberation Sans", sans-serif' fill="#303030">2</text>
<line x1="36.40" y1="477.20" x2="32.55" y2="479.12" stroke="#333" stroke-width="0.8" />
<text transform="translate(26.10 488.55) scale(1.000 1)" font-size="8.8" text-anchor="middle" font-family='"Liberation Sans", sans-serif' fill="#303030">1</text>
<line x1="70.22" y1="488.85" x2="66.37" y2="490.77" stroke="#333" stroke-width="0.8" />
<text transform="translate(57.20 501.45) scale(1.000 1)" font-size="8.8" text-anchor="middle" font-family='"Liberation Sans", sans-serif' fill="#303030">0.5</text>
<line x1="104.04" y1="500.49" x2="100.19" y2="502.41" stroke="#333" stroke-width="0.8" />
<text transform="translate(95.40 513.55) scale(1.000 1)" font-size="8.8" text-anchor="middle" font-family='"Liberation Sans", sans-serif' fill="#303030">0</text>
<line x1="137.85" y1="512.14" x2="134.01" y2="514.06" stroke="#333" stroke-width="0.8" />
<text transform="translate(124.80 525.35) scale(1.000 1)" font-size="8.8" text-anchor="middle" font-family='"Liberation Sans", sans-serif' fill="#303030">-0.5</text>
<line x1="171.67" y1="523.78" x2="167.82" y2="525.70" stroke="#333" stroke-width="0.8" />
<text transform="translate(162.70 537.35) scale(1.000 1)" font-size="8.8" text-anchor="middle" font-family='"Liberation Sans", sans-serif' fill="#303030">-1</text>
<line x1="187.70" y1="529.30" x2="191.77" y2="530.70" stroke="#333" stroke-width="0.8" />
<text transform="translate(197.90 540.65) scale(1.000 1)" font-size="8.8" text-anchor="middle" font-family='"Liberation Sans", sans-serif' fill="#303030">-1</text>
<line x1="219.10" y1="513.60" x2="223.17" y2="515.00" stroke="#333" stroke-width="0.8" />
<text transform="translate(233.50 525.35) scale(1.000 1)" font-size="8.8" text-anchor="middle" font-family='"Liberation Sans", sans-serif' fill="#303030">-0.5</text>
<line x1="250.50" y1="497.90" x2="254.57" y2="499.30" stroke="#333" stroke-width="0.8" />
<text transform="translate(259.10 509.25) scale(1.000 1)" font-size="8.8" text-anchor="middle" font-family='"Liberation Sans", sans-serif' fill="#303030">0</text>
<line x1="281.90" y1="482.20" x2="285.97" y2="483.60" stroke="#333" stroke-width="0.8" />
<text transform="translate(295.00 494.15) scale(1.000 1)" font-size="8.8" text-anchor="middle" font-family='"Liberation Sans", sans-serif' fill="#303030">0.5</text>
<line x1="313.30" y1="466.50" x2="317.37" y2="467.90" stroke="#333" stroke-width="0.8" />
<text transform="translate(322.60 478.35) scale(1.000 1)" font-size="8.8" text-anchor="middle" font-family='"Liberation Sans", sans-serif' fill="#303030">1</text>
<text x="6.00" y="429.25" font-size="12.5" text-anchor="middle" font-family='"Liberation Serif", serif' font-style="italic" fill="#333" transform="rotate(-90 6.00 425.50)">K<tspan font-size="9.00" dy="1.6">P</tspan></text>
<text x="87.40" y="531.75" font-size="12.5" text-anchor="middle" font-family='"Liberation Serif", serif' font-style="italic" fill="#333">R<tspan font-size="9.00" dy="1.6">e</tspan></text>
<text x="274.20" y="528.75" font-size="12.5" text-anchor="middle" font-family='"Liberation Serif", serif' font-style="italic" fill="#333">I<tspan font-size="9.00" dy="1.6">m</tspan></text>
<path d="M129.40 387.20 L129.64 389.17 L129.88 391.14 L130.11 393.11 L130.34 395.08 L130.57 397.05 L130.79 399.02 L131.02 400.99 L131.24 402.96 L131.45 404.94 L131.67 406.91 L131.88 408.88 L132.09 410.85 L132.29 412.83 L132.50 414.80 L132.70 416.77 L132.90 418.74 L133.09 420.72 L133.29 422.69 L133.48 424.67 L133.66 426.64 L133.85 428.61 L134.03 430.59 L134.21 432.56 L134.38 434.54 L134.56 436.52 L134.73 438.49 L134.90 440.47 L135.06 442.44 L135.22 444.42 L135.38 446.40 L135.54 448.37 L135.69 450.35 L135.85 452.33 L136.00 454.31 L136.14 456.28 L136.28 458.26 L136.43 460.24 L136.56 462.22 L136.70 464.20 L136.83 466.18 L136.96 468.16 L137.09 470.14 L137.21 472.12 L137.33 474.10 L137.45 476.08 L137.57 478.06 L137.68 480.04 L137.79 482.02 L137.90 484.00" fill="none" stroke="#77AC30" stroke-width="1.45" stroke-linejoin="round" />
<path d="M205.90 350.20 L205.74 352.32 L205.58 354.44 L205.41 356.55 L205.25 358.67 L205.09 360.79 L204.92 362.91 L204.75 365.02 L204.59 367.14 L204.42 369.26 L204.25 371.38 L204.08 373.49 L203.91 375.61 L203.74 377.73 L203.57 379.84 L203.40 381.96 L203.23 384.08 L203.05 386.19 L202.88 388.31 L202.70 390.43 L202.53 392.55 L202.35 394.66 L202.17 396.78 L201.99 398.89 L201.82 401.01 L201.64 403.13 L201.46 405.24 L201.27 407.36 L201.09 409.48 L200.91 411.59 L200.73 413.71 L200.54 415.82 L200.36 417.94 L200.17 420.06 L199.99 422.17 L199.80 424.29 L199.61 426.40 L199.42 428.52 L199.23 430.63 L199.04 432.75 L198.85 434.86 L198.66 436.98 L198.47 439.10 L198.27 441.21 L198.08 443.33 L197.89 445.44 L197.69 447.56 L197.49 449.67 L197.30 451.79 L197.10 453.90" fill="none" stroke="#77AC30" stroke-width="1.45" stroke-linejoin="round" />
<path d="M179.40 513.29 L180.03 511.75 L180.67 510.21 L181.30 508.68 L181.93 507.15 L182.56 505.62 L183.20 504.10 L183.83 502.58 L184.46 501.06 L185.09 499.55 L185.73 498.03 L186.36 496.53 L186.99 495.02 L187.62 493.53 L188.26 492.03 L188.89 490.54 L189.52 489.06 L190.16 487.58 L190.79 486.10 L191.42 484.63 L192.05 483.17 L192.69 481.71 L193.32 480.26 L193.95 478.82 L194.58 477.38 L195.22 475.94 L195.85 474.52 L196.48 473.10 L197.11 471.69 L197.75 470.28 L198.38 468.89 L199.01 467.50 L199.65 466.12 L200.28 464.74 L200.91 463.38 L201.54 462.02 L202.18 460.67 L202.81 459.33 L203.44 458.00 L204.07 456.68 L204.71 455.37 L205.34 454.06 L205.97 452.77 L206.60 451.49 L207.24 450.21 L207.87 448.95 L208.50 447.70 L209.14 446.45 L209.77 445.22 L210.40 444.00 L211.03 442.79 L211.67 441.59 L212.30 440.40 L212.93 439.22 L213.56 438.06 L214.20 436.90 L214.83 435.76 L215.46 434.63 L216.09 433.51 L216.73 432.40 L217.36 431.31 L217.99 430.23 L218.63 429.16 L219.26 428.10 L219.89 427.06 L220.52 426.03 L221.16 425.02 L221.79 424.01 L222.42 423.02 L223.05 422.05 L223.69 421.09 L224.32 420.14 L224.95 419.21 L225.58 418.29 L226.22 417.38 L226.85 416.49 L227.48 415.62 L228.12 414.75 L228.75 413.91 L229.38 413.08 L230.01 412.26 L230.65 411.46 L231.28 410.68 L231.91 409.91 L232.54 409.15 L233.18 408.42 L233.81 407.69 L234.44 406.99 L235.07 406.30 L235.71 405.62 L236.34 404.97 L236.97 404.33 L237.61 403.70 L238.24 403.10 L238.87 402.51 L239.50 401.93 L240.14 401.38 L240.77 400.84 L241.40 400.32 L242.03 399.81 L242.67 399.32 L243.30 398.86 L243.93 398.40 L244.56 397.97 L245.20 397.56 L245.83 397.16" fill="none" stroke="#F4763A" stroke-width="1.55" stroke-linejoin="round" />
<path d="M250.89 394.64 L251.52 394.41 L252.16 394.20 L252.79 394.01 L253.42 393.84 L254.05 393.68 L254.69 393.55 L255.32 393.43 L255.95 393.34 L256.58 393.26 L257.22 393.21 L257.85 393.17 L258.48 393.16 L259.12 393.16 L259.75 393.18 L260.38 393.23 L261.01 393.29 L261.65 393.38 L262.28 393.48 L262.91 393.61 L263.54 393.75 L264.18 393.92 L264.81 394.11 L265.44 394.32 L266.07 394.55 L266.71 394.80 L267.34 395.07 L267.97 395.36 L268.61 395.67 L269.24 396.01 L269.87 396.36 L270.50 396.74 L271.14 397.14 L271.77 397.55 L272.40 398.00 L273.03 398.46 L273.67 398.94 L274.30 399.45 L274.93 399.97 L275.56 400.52 L276.20 401.09 L276.83 401.69 L277.46 402.30 L278.10 402.94 L278.73 403.60 L279.36 404.28 L279.99 404.98 L280.63 405.70 L281.26 406.45 L281.89 407.22 L282.52 408.01 L283.16 408.82 L283.79 409.66 L284.42 410.52 L285.05 411.40 L285.69 412.30 L286.32 413.23 L286.95 414.18 L287.59 415.15 L288.22 416.14 L288.85 417.16 L289.48 418.20 L290.12 419.26 L290.75 420.34 L291.38 421.45 L292.01 422.58 L292.65 423.73 L293.28 424.91 L293.91 426.10 L294.54 427.33 L295.18 428.57 L295.81 429.84 L296.44 431.13 L297.08 432.44 L297.71 433.78 L298.34 435.13 L298.97 436.52 L299.61 437.92 L300.24 439.35 L300.87 440.80 L301.50 442.28 L302.14 443.77 L302.77 445.29 L303.40 446.84 L304.03 448.40 L304.67 449.99 L305.30 451.61" fill="none" stroke="#F4763A" stroke-width="1.55" stroke-linejoin="round" />
<line x1="165.00" y1="371.00" x2="165.00" y2="471.50" stroke="#F82424" stroke-width="1.6" />
<line x1="172.60" y1="366.50" x2="172.60" y2="467.20" stroke="#F82424" stroke-width="1.6" />
<line x1="168.40" y1="369.00" x2="168.40" y2="469.30" stroke="#0072BD" stroke-width="2.1" stroke-dasharray="1.65 1.35"/>
<text x="130.50" y="345.40" font-size="9.2" font-family='"Liberation Sans", sans-serif' fill="#303030">λ<tspan font-size="7.2" dy="3.6">1,2</tspan></text>
<line x1="135.60" y1="350.20" x2="130.41" y2="377.70" stroke="#1a1a1a" stroke-width="0.6" />
<polygon points="129.30,383.60 127.16,374.44 130.41,377.70 134.63,375.85" fill="#000"/>
<line x1="146.10" y1="346.60" x2="197.31" y2="349.82" stroke="#1a1a1a" stroke-width="0.6" />
<polygon points="203.30,350.20 194.48,353.45 197.31,349.82 194.96,345.87" fill="#000"/>
<polygon points="38.40,781.50 188.30,738.10 251.95,763.70 102.10,807.50" fill="#C9DAEE"/>
<polygon points="102.10,807.50 251.95,763.70 315.60,789.30 165.80,833.50" fill="#9CC4A0"/>
<line x1="38.40" y1="781.50" x2="38.40" y2="659.00" stroke="#3a3a3a" stroke-width="0.6" />
<line x1="188.30" y1="738.10" x2="188.30" y2="615.60" stroke="#a8a8a8" stroke-width="1.3" />
<line x1="315.60" y1="789.30" x2="315.60" y2="666.80" stroke="#3a3a3a" stroke-width="0.6" />
<line x1="38.40" y1="659.00" x2="188.30" y2="615.60" stroke="#3a3a3a" stroke-width="0.6" />
<line x1="188.30" y1="615.60" x2="315.60" y2="666.80" stroke="#3a3a3a" stroke-width="0.6" />
<line x1="38.40" y1="781.50" x2="102.10" y2="807.50" stroke="#6f7c8a" stroke-width="0.7" />
<line x1="102.10" y1="807.50" x2="165.80" y2="833.50" stroke="#444" stroke-width="0.75" />
<line x1="165.80" y1="833.50" x2="315.60" y2="789.30" stroke="#444" stroke-width="0.75" />
<line x1="38.40" y1="781.50" x2="34.42" y2="779.88" stroke="#333" stroke-width="0.8" />
<text transform="translate(31.40 782.35) scale(1.000 1)" font-size="8.8" text-anchor="end" font-family='"Liberation Sans", sans-serif' fill="#303030">0</text>
<line x1="38.40" y1="761.08" x2="34.42" y2="759.46" stroke="#333" stroke-width="0.8" />
<text transform="translate(31.40 761.93) scale(1.000 1)" font-size="8.8" text-anchor="end" font-family='"Liberation Sans", sans-serif' fill="#303030">0.5</text>
<line x1="38.40" y1="740.67" x2="34.42" y2="739.04" stroke="#333" stroke-width="0.8" />
<text transform="translate(31.40 741.52) scale(1.000 1)" font-size="8.8" text-anchor="end" font-family='"Liberation Sans", sans-serif' fill="#303030">1</text>
<line x1="38.40" y1="720.25" x2="34.42" y2="718.63" stroke="#333" stroke-width="0.8" />
<text transform="translate(31.40 721.10) scale(1.000 1)" font-size="8.8" text-anchor="end" font-family='"Liberation Sans", sans-serif' fill="#303030">1.5</text>
<line x1="38.40" y1="699.83" x2="34.42" y2="698.21" stroke="#333" stroke-width="0.8" />
<text transform="translate(31.40 700.68) scale(1.000 1)" font-size="8.8" text-anchor="end" font-family='"Liberation Sans", sans-serif' fill="#303030">2</text>
<line x1="38.40" y1="679.42" x2="34.42" y2="677.79" stroke="#333" stroke-width="0.8" />
<text transform="translate(31.40 680.27) scale(1.000 1)" font-size="8.8" text-anchor="end" font-family='"Liberation Sans", sans-serif' fill="#303030">2.5</text>
<line x1="38.40" y1="659.00" x2="34.42" y2="657.38" stroke="#333" stroke-width="0.8" />
<text transform="translate(31.40 659.85) scale(1.000 1)" font-size="8.8" text-anchor="end" font-family='"Liberation Sans", sans-serif' fill="#303030">3</text>
<line x1="38.40" y1="781.50" x2="34.28" y2="782.72" stroke="#333" stroke-width="0.8" />
<text transform="translate(28.10 792.95) scale(1.000 1)" font-size="8.8" text-anchor="middle" font-family='"Liberation Sans", sans-serif' fill="#303030">4</text>
<line x1="70.25" y1="794.50" x2="66.13" y2="795.72" stroke="#333" stroke-width="0.8" />
<text transform="translate(60.30 805.95) scale(1.000 1)" font-size="8.8" text-anchor="middle" font-family='"Liberation Sans", sans-serif' fill="#303030">2</text>
<line x1="102.10" y1="807.50" x2="97.98" y2="808.72" stroke="#333" stroke-width="0.8" />
<text transform="translate(92.10 818.55) scale(1.000 1)" font-size="8.8" text-anchor="middle" font-family='"Liberation Sans", sans-serif' fill="#303030">0</text>
<line x1="133.95" y1="820.50" x2="129.83" y2="821.72" stroke="#333" stroke-width="0.8" />
<text transform="translate(123.00 831.85) scale(1.000 1)" font-size="8.8" text-anchor="middle" font-family='"Liberation Sans", sans-serif' fill="#303030">-2</text>
<line x1="165.80" y1="833.50" x2="161.68" y2="834.72" stroke="#333" stroke-width="0.8" />
<text transform="translate(155.20 844.35) scale(1.000 1)" font-size="8.8" text-anchor="middle" font-family='"Liberation Sans", sans-serif' fill="#303030">-4</text>
<line x1="165.80" y1="833.50" x2="169.78" y2="835.12" stroke="#333" stroke-width="0.8" />
<text transform="translate(176.50 845.35) scale(1.000 1)" font-size="8.8" text-anchor="middle" font-family='"Liberation Sans", sans-serif' fill="#303030">-3</text>
<line x1="190.77" y1="826.13" x2="194.75" y2="827.76" stroke="#333" stroke-width="0.8" />
<text transform="translate(201.60 838.15) scale(1.000 1)" font-size="8.8" text-anchor="middle" font-family='"Liberation Sans", sans-serif' fill="#303030">-2</text>
<line x1="215.73" y1="818.77" x2="219.71" y2="820.39" stroke="#333" stroke-width="0.8" />
<text transform="translate(226.70 831.05) scale(1.000 1)" font-size="8.8" text-anchor="middle" font-family='"Liberation Sans", sans-serif' fill="#303030">-1</text>
<line x1="240.70" y1="811.40" x2="244.68" y2="813.02" stroke="#333" stroke-width="0.8" />
<text transform="translate(249.80 823.05) scale(1.000 1)" font-size="8.8" text-anchor="middle" font-family='"Liberation Sans", sans-serif' fill="#303030">0</text>
<line x1="265.67" y1="804.03" x2="269.65" y2="805.66" stroke="#333" stroke-width="0.8" />
<text transform="translate(274.40 816.05) scale(1.000 1)" font-size="8.8" text-anchor="middle" font-family='"Liberation Sans", sans-serif' fill="#303030">1</text>
<line x1="290.63" y1="796.67" x2="294.61" y2="798.29" stroke="#333" stroke-width="0.8" />
<text transform="translate(299.30 808.45) scale(1.000 1)" font-size="8.8" text-anchor="middle" font-family='"Liberation Sans", sans-serif' fill="#303030">2</text>
<line x1="315.60" y1="789.30" x2="319.58" y2="790.92" stroke="#333" stroke-width="0.8" />
<text transform="translate(324.40 800.95) scale(1.000 1)" font-size="8.8" text-anchor="middle" font-family='"Liberation Sans", sans-serif' fill="#303030">3</text>
<text x="8.80" y="724.40" font-size="13" text-anchor="middle" font-family='"Liberation Serif", serif' font-style="italic" fill="#333" transform="rotate(-90 8.80 720.50)">K<tspan font-size="9.88" dy="1.7">P</tspan></text>
<text x="84.10" y="835.95" font-size="12.5" text-anchor="middle" font-family='"Liberation Serif", serif' font-style="italic" fill="#333">R<tspan font-size="9.00" dy="1.6">e</tspan></text>
<text x="258.60" y="842.45" font-size="12.5" text-anchor="middle" font-family='"Liberation Serif", serif' font-style="italic" fill="#333">I<tspan font-size="9.00" dy="1.6">m</tspan></text>
<line x1="116.00" y1="685.40" x2="119.00" y2="805.30" stroke="#8E35A8" stroke-width="1.6" />
<line x1="244.40" y1="647.70" x2="243.80" y2="768.80" stroke="#8E35A8" stroke-width="1.6" />
<path d="M159.60 670.20 L159.74 672.61 L159.88 675.02 L160.01 677.43 L160.15 679.84 L160.28 682.25 L160.41 684.66 L160.55 687.07 L160.68 689.47 L160.81 691.88 L160.94 694.29 L161.07 696.70 L161.20 699.11 L161.32 701.52 L161.45 703.93 L161.58 706.34 L161.70 708.75 L161.82 711.16 L161.95 713.57 L162.07 715.98 L162.19 718.39 L162.31 720.80 L162.43 723.21 L162.55 725.62 L162.66 728.03 L162.78 730.44 L162.90 732.85 L163.01 735.26 L163.12 737.67 L163.24 740.08 L163.35 742.49 L163.46 744.90 L163.57 747.31 L163.68 749.73 L163.79 752.14 L163.89 754.55 L164.00 756.96 L164.11 759.37 L164.21 761.78 L164.31 764.19 L164.42 766.60 L164.52 769.01 L164.62 771.42 L164.72 773.83 L164.82 776.24 L164.92 778.66 L165.01 781.07 L165.11 783.48 L165.21 785.89 L165.30 788.30" fill="none" stroke="#77AC30" stroke-width="1.45" stroke-linejoin="round" />
<path d="M193.40 660.10 L193.28 662.58 L193.16 665.06 L193.04 667.54 L192.93 670.01 L192.81 672.49 L192.69 674.97 L192.58 677.45 L192.47 679.93 L192.36 682.41 L192.25 684.89 L192.14 687.37 L192.03 689.85 L191.92 692.33 L191.81 694.80 L191.71 697.28 L191.61 699.76 L191.50 702.24 L191.40 704.72 L191.30 707.20 L191.20 709.68 L191.10 712.16 L191.01 714.64 L190.91 717.12 L190.82 719.60 L190.72 722.08 L190.63 724.56 L190.54 727.04 L190.45 729.52 L190.36 732.00 L190.27 734.48 L190.18 736.96 L190.10 739.44 L190.01 741.92 L189.93 744.40 L189.84 746.88 L189.76 749.36 L189.68 751.84 L189.60 754.32 L189.52 756.80 L189.45 759.28 L189.37 761.76 L189.29 764.24 L189.22 766.72 L189.15 769.20 L189.08 771.68 L189.01 774.16 L188.94 776.64 L188.87 779.12 L188.80 781.60" fill="none" stroke="#77AC30" stroke-width="1.45" stroke-linejoin="round" />
<line x1="175.60" y1="665.30" x2="175.60" y2="785.40" stroke="#F82424" stroke-width="1.6" />
<line x1="179.00" y1="665.30" x2="179.00" y2="785.40" stroke="#F82424" stroke-width="1.6" />
<line x1="177.30" y1="665.00" x2="177.30" y2="785.40" stroke="#1a70b8" stroke-width="2.0" />
<line x1="177.30" y1="666.20" x2="177.30" y2="785.40" stroke="#dcd4e0" stroke-width="1.5" stroke-dasharray="1.0 1.53"/>
<path d="M185.40 669.10 L185.53 670.29 L185.66 671.46 L185.79 672.63 L185.92 673.80 L186.05 674.95 L186.18 676.10 L186.31 677.24 L186.44 678.37 L186.57 679.49 L186.70 680.61 L186.83 681.72 L186.96 682.82 L187.09 683.92 L187.22 685.01 L187.36 686.09 L187.49 687.16 L187.62 688.22 L187.75 689.28 L187.89 690.33 L188.02 691.37 L188.15 692.41 L188.29 693.43 L188.42 694.45 L188.55 695.47 L188.69 696.47 L188.82 697.47 L188.96 698.46 L189.09 699.44 L189.23 700.41 L189.36 701.38 L189.50 702.34 L189.63 703.29 L189.77 704.24 L189.91 705.17 L190.04 706.10 L190.18 707.02 L190.31 707.94 L190.45 708.85 L190.59 709.74 L190.73 710.64 L190.86 711.52 L191.00 712.40 L191.14 713.27 L191.28 714.13 L191.42 714.98 L191.55 715.83 L191.69 716.67 L191.83 717.50 L191.97 718.32 L192.11 719.14 L192.25 719.95 L192.39 720.75 L192.53 721.55 L192.67 722.33 L192.81 723.11 L192.95 723.88 L193.09 724.65 L193.24 725.40 L193.38 726.15 L193.52 726.89 L193.66 727.63 L193.80 728.35 L193.95 729.07 L194.09 729.78 L194.23 730.49 L194.37 731.18 L194.52 731.87 L194.66 732.55 L194.80 733.23 L194.95 733.89 L195.09 734.55 L195.24 735.20 L195.38 735.85 L195.53 736.48 L195.67 737.11 L195.82 737.73 L195.96 738.35 L196.11 738.95 L196.25 739.55 L196.40 740.14 L196.55 740.72 L196.69 741.30 L196.84 741.87 L196.99 742.43 L197.13 742.98 L197.28 743.53 L197.43 744.07 L197.57 744.60 L197.72 745.12 L197.87 745.64 L198.02 746.15 L198.17 746.65 L198.32 747.14 L198.47 747.62 L198.62 748.10 L198.76 748.57 L198.91 749.04 L199.06 749.49 L199.21 749.94 L199.37 750.38 L199.52 750.81 L199.67 751.24 L199.82 751.66 L199.97 752.07 L200.12 752.47 L200.27 752.87 L200.42 753.25 L200.58 753.63 L200.73 754.01 L200.88 754.37 L201.03 754.73 L201.19 755.08 L201.34 755.42 L201.49 755.76 L201.65 756.09 L201.80 756.41 L201.95 756.72 L202.11 757.03 L202.26 757.32 L202.42 757.61 L202.57 757.90 L202.73 758.17" fill="none" stroke="#222" stroke-width="1.25" stroke-linejoin="round" />
<path d="M207.16 762.82 L207.32 762.88 L207.48 762.93 L207.64 762.97 L207.81 763.00 L207.97 763.03 L208.13 763.05 L208.29 763.06 L208.46 763.07 L208.62 763.06 L208.78 763.05 L208.95 763.03 L209.11 763.01 L209.28 762.98 L209.44 762.93 L209.60 762.89 L209.77 762.83 L209.93 762.77 L210.10 762.70 L210.26 762.62 L210.43 762.53 L210.60 762.44 L210.76 762.34 L210.93 762.23 L211.09 762.11 L211.26 761.99 L211.43 761.86 L211.59 761.72 L211.76 761.57 L211.93 761.42 L212.10 761.26 L212.26 761.09 L212.43 760.92 L212.60 760.73 L212.77 760.54 L212.94 760.34 L213.11 760.14 L213.28 759.92 L213.45 759.70 L213.62 759.47 L213.79 759.24 L213.96 758.99 L214.13 758.74 L214.30 758.48 L214.47 758.22 L214.64 757.94 L214.81 757.66 L214.98 757.37 L215.15 757.08 L215.32 756.77 L215.50 756.46 L215.67 756.14 L215.84 755.81 L216.01 755.48 L216.19 755.14 L216.36 754.79 L216.53 754.43 L216.71 754.07 L216.88 753.70 L217.05 753.32 L217.23 752.93 L217.40 752.54 L217.58 752.14 L217.75 751.73 L217.93 751.31 L218.10 750.89 L218.28 750.45 L218.45 750.01 L218.63 749.57 L218.81 749.11 L218.98 748.65 L219.16 748.18 L219.34 747.71 L219.51 747.22 L219.69 746.73 L219.87 746.23 L220.05 745.72 L220.22 745.21 L220.40 744.69 L220.58 744.16 L220.76 743.62 L220.94 743.07 L221.12 742.52 L221.29 741.96 L221.47 741.40 L221.65 740.82 L221.83 740.24 L222.01 739.65 L222.19 739.05 L222.37 738.45 L222.56 737.83 L222.74 737.21 L222.92 736.59 L223.10 735.95 L223.28 735.31 L223.46 734.66 L223.64 734.00 L223.83 733.34 L224.01 732.67 L224.19 731.99 L224.37 731.30 L224.56 730.60 L224.74 729.90 L224.92 729.19 L225.11 728.47 L225.29 727.75 L225.48 727.02 L225.66 726.28 L225.84 725.53 L226.03 724.77 L226.21 724.01 L226.40 723.24 L226.59 722.46 L226.77 721.68 L226.96 720.88 L227.14 720.08 L227.33 719.28 L227.52 718.46 L227.70 717.64 L227.89 716.81 L228.08 715.97 L228.26 715.12 L228.45 714.27 L228.64 713.41 L228.83 712.54 L229.02 711.67 L229.20 710.78 L229.39 709.89 L229.58 709.00 L229.77 708.09 L229.96 707.18 L230.15 706.26 L230.34 705.33 L230.53 704.39 L230.72 703.45 L230.91 702.50 L231.10 701.54 L231.29 700.58 L231.48 699.60 L231.67 698.62 L231.87 697.63 L232.06 696.64 L232.25 695.63 L232.44 694.62 L232.63 693.60 L232.83 692.58 L233.02 691.55 L233.21 690.50 L233.41 689.46 L233.60 688.40" fill="none" stroke="#222" stroke-width="1.25" stroke-linejoin="round" />
<path d="M180.20 804.10 L180.36 803.60 L180.52 803.11 L180.68 802.62 L180.84 802.13 L181.01 801.65 L181.17 801.17 L181.33 800.69 L181.49 800.21 L181.65 799.74 L181.81 799.27 L181.97 798.80 L182.13 798.34 L182.30 797.88 L182.46 797.42 L182.62 796.97 L182.78 796.51 L182.94 796.07 L183.11 795.62 L183.27 795.18 L183.43 794.74 L183.59 794.30 L183.75 793.87 L183.92 793.44 L184.08 793.01 L184.24 792.59 L184.40 792.16 L184.57 791.75 L184.73 791.33 L184.89 790.92 L185.06 790.51 L185.22 790.10 L185.38 789.70 L185.54 789.30 L185.71 788.90 L185.87 788.51 L186.03 788.12 L186.20 787.73 L186.36 787.34 L186.52 786.96 L186.69 786.58 L186.85 786.20 L187.01 785.83 L187.18 785.46 L187.34 785.09 L187.51 784.73 L187.67 784.37 L187.83 784.01 L188.00 783.65 L188.16 783.30 L188.33 782.95 L188.49 782.61 L188.65 782.26 L188.82 781.92 L188.98 781.59 L189.15 781.25 L189.31 780.92 L189.48 780.59 L189.64 780.27 L189.81 779.94 L189.97 779.63 L190.14 779.31 L190.30 779.00 L190.47 778.69 L190.63 778.38 L190.80 778.07 L190.96 777.77 L191.13 777.48 L191.29 777.18 L191.46 776.89 L191.62 776.60 L191.79 776.31 L191.96 776.03 L192.12 775.75 L192.29 775.47 L192.45 775.20 L192.62 774.93 L192.78 774.66 L192.95 774.39 L193.12 774.13 L193.28 773.87 L193.45 773.62 L193.62 773.36 L193.78 773.11 L193.95 772.87 L194.11 772.62 L194.28 772.38 L194.45 772.14 L194.61 771.91 L194.78 771.68 L194.95 771.45 L195.12 771.22 L195.28 771.00 L195.45 770.78 L195.62 770.56 L195.78 770.35 L195.95 770.14 L196.12 769.93 L196.29 769.72 L196.45 769.52 L196.62 769.32 L196.79 769.13 L196.96 768.94 L197.12 768.75 L197.29 768.56 L197.46 768.37 L197.63 768.19 L197.80 768.02 L197.96 767.84 L198.13 767.67 L198.30 767.50 L198.47 767.33 L198.64 767.17 L198.81 767.01 L198.97 766.86 L199.14 766.70 L199.31 766.55 L199.48 766.40 L199.65 766.26 L199.82 766.12 L199.99 765.98 L200.15 765.84 L200.32 765.71 L200.49 765.58 L200.66 765.45 L200.83 765.33 L201.00 765.21 L201.17 765.09 L201.34 764.98 L201.51 764.86 L201.68 764.76 L201.85 764.65 L202.02 764.55 L202.19 764.45 L202.36 764.35 L202.53 764.26 L202.70 764.17 L202.87 764.08 L203.04 764.00 L203.21 763.91 L203.38 763.84 L203.55 763.76 L203.72 763.69 L203.89 763.62 L204.06 763.55 L204.23 763.49 L204.40 763.43 L204.57 763.37 L204.74 763.31 L204.91 763.26 L205.08 763.21 L205.25 763.17 L205.43 763.13 L205.60 763.09" fill="none" stroke="#D5652A" stroke-width="1.55" stroke-linejoin="round" />
<path d="M207.31 762.86 L207.48 762.85 L207.66 762.85 L207.83 762.85 L208.00 762.85 L208.17 762.86 L208.34 762.86 L208.52 762.88 L208.69 762.89 L208.86 762.91 L209.03 762.93 L209.21 762.95 L209.38 762.98 L209.55 763.01 L209.72 763.04 L209.90 763.08 L210.07 763.12 L210.24 763.16 L210.41 763.20 L210.59 763.25 L210.76 763.30 L210.93 763.36 L211.11 763.41 L211.28 763.47 L211.45 763.53 L211.63 763.60 L211.80 763.67 L211.97 763.74 L212.15 763.82 L212.32 763.89 L212.50 763.97 L212.67 764.06 L212.84 764.15 L213.02 764.24 L213.19 764.33 L213.37 764.42 L213.54 764.52 L213.71 764.62 L213.89 764.73 L214.06 764.84 L214.24 764.95 L214.41 765.06 L214.59 765.18 L214.76 765.30 L214.94 765.42 L215.11 765.55 L215.29 765.68 L215.46 765.81 L215.64 765.94 L215.81 766.08 L215.99 766.22 L216.16 766.37 L216.34 766.51 L216.51 766.66 L216.69 766.82 L216.86 766.97 L217.04 767.13 L217.21 767.29 L217.39 767.46 L217.57 767.63 L217.74 767.80 L217.92 767.97 L218.09 768.15 L218.27 768.33 L218.45 768.51 L218.62 768.70 L218.80 768.89 L218.97 769.08 L219.15 769.28 L219.33 769.47 L219.50 769.67 L219.68 769.88 L219.86 770.09 L220.03 770.30 L220.21 770.51 L220.39 770.73 L220.56 770.94 L220.74 771.17 L220.92 771.39 L221.09 771.62 L221.27 771.85 L221.45 772.09 L221.63 772.32 L221.80 772.56 L221.98 772.81 L222.16 773.05 L222.34 773.30 L222.51 773.55 L222.69 773.81 L222.87 774.07 L223.05 774.33 L223.22 774.59 L223.40 774.86 L223.58 775.13 L223.76 775.40 L223.94 775.68 L224.12 775.96 L224.29 776.24 L224.47 776.53 L224.65 776.82 L224.83 777.11 L225.01 777.40 L225.19 777.70 L225.36 778.00 L225.54 778.30 L225.72 778.61 L225.90 778.92 L226.08 779.23 L226.26 779.55 L226.44 779.87 L226.62 780.19 L226.80 780.51 L226.98 780.84 L227.16 781.17 L227.34 781.50 L227.51 781.84 L227.69 782.18 L227.87 782.52 L228.05 782.87 L228.23 783.22 L228.41 783.57 L228.59 783.92 L228.77 784.28 L228.95 784.64 L229.13 785.00 L229.31 785.37 L229.49 785.74 L229.67 786.11 L229.85 786.49 L230.03 786.87 L230.22 787.25 L230.40 787.63 L230.58 788.02 L230.76 788.41 L230.94 788.80 L231.12 789.20 L231.30 789.60" fill="none" stroke="#D5652A" stroke-width="1.55" stroke-linejoin="round" />
<text x="155.00" y="635.90" font-size="9.2" font-family='"Liberation Sans", sans-serif' fill="#303030">λ<tspan font-size="7.2" dy="3.6">1,2</tspan></text>
<line x1="159.70" y1="640.20" x2="158.56" y2="659.31" stroke="#1a1a1a" stroke-width="0.6" />
<polygon points="158.20,665.30 154.92,656.49 158.56,659.31 162.51,656.94" fill="#000"/>
<line x1="173.30" y1="638.20" x2="188.04" y2="650.80" stroke="#1a1a1a" stroke-width="0.6" />
<polygon points="192.60,654.70 183.59,652.00 188.04,650.80 188.53,646.22" fill="#000"/>
<text x="37.90" y="275.00" font-size="15" font-family='"Liberation Serif", serif' fill="#222" textLength="311.1" lengthAdjust="spacingAndGlyphs">(<tspan font-style="italic">a</tspan>) The eigenvalues under first-order EWHM</text>
<text x="413.00" y="275.00" font-size="15" font-family='"Liberation Serif", serif' fill="#222" textLength="236.0" lengthAdjust="spacingAndGlyphs">(<tspan font-style="italic">b</tspan>) The real part of the eigenvalue</text>
<text x="37.90" y="579.00" font-size="15" font-family='"Liberation Serif", serif' fill="#222" textLength="327.6" lengthAdjust="spacingAndGlyphs">(<tspan font-style="italic">c</tspan>) The eigenvalues under second-order EWHM</text>
<text x="414.40" y="579.00" font-size="15" font-family='"Liberation Serif", serif' fill="#222" textLength="238.1" lengthAdjust="spacingAndGlyphs">(<tspan font-style="italic">d</tspan>) The real part of the eigenvalue</text>
<text x="37.90" y="883.00" font-size="15" font-family='"Liberation Serif", serif' fill="#222" textLength="316.1" lengthAdjust="spacingAndGlyphs">(<tspan font-style="italic">e</tspan>) The eigenvalues under forth-order EWHM</text>
<text x="413.00" y="883.00" font-size="15" font-family='"Liberation Serif", serif' fill="#222" textLength="234.5" lengthAdjust="spacingAndGlyphs">(<tspan font-style="italic">f</tspan>) The real part of the eigenvalue</text>
</svg></body></html>
